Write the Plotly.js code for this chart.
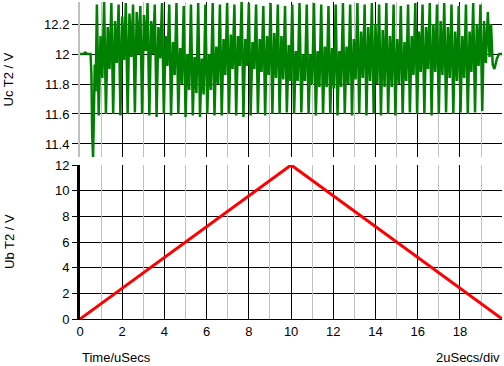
<!DOCTYPE html>
<html>
<head>
<meta charset="utf-8">
<script src="https://cdn.plot.ly/plotly-3.0.1.min.js"></script>
<style>
html,body{margin:0;padding:0;background:#fff;}
#chart{width:504px;height:366px;}
</style>
</head>
<body>
<div id="chart"></div>
<script>
// ---- Data ----
// Uc T2 (V): settling segment before the oscillation starts (time in uSecs)
const ucStartTime = [0, 0.15, 0.25, 0.35, 0.50, 0.54, 0.58, 0.62, 0.70, 0.74];
const ucStartValue = [12.0, 12.0, 12.01, 12.0, 12.0, 11.87, 11.45, 11.31, 11.93, 11.75];

// Uc T2 (V): oscillating part, samples every ucStep uSecs from ucOscStart
const ucOscStart = 0.80;
const ucStep = 0.0857;
const ucOscValue = [
  12.33, 11.59, 12.12, 11.84,
  12.35, 11.60, 12.18, 11.90,
  12.34, 11.60, 12.22, 11.94,
  12.33, 11.59, 12.25, 11.96,
  12.34, 11.60, 12.27, 11.98,
  12.33, 11.61, 12.28, 12.00,
  12.32, 11.60, 12.26, 12.02,
  12.34, 11.59, 12.22, 12.00,
  12.33, 11.58, 12.18, 11.97,
  12.34, 11.60, 12.12, 11.92,
  12.33, 11.59, 12.08, 11.86,
  12.34, 11.60, 12.04, 11.80,
  12.32, 11.58, 12.00, 11.76,
  12.33, 11.59, 11.98, 11.74,
  12.34, 11.58, 11.97, 11.73,
  12.33, 11.60, 12.00, 11.76,
  12.34, 11.59, 12.05, 11.80,
  12.33, 11.59, 12.10, 11.86,
  12.34, 11.60, 12.13, 11.90,
  12.33, 11.59, 12.12, 11.92,
  12.35, 11.58, 12.10, 11.92,
  12.34, 11.59, 12.08, 11.90,
  12.33, 11.60, 12.10, 11.88,
  12.32, 11.59, 12.12, 11.86,
  12.34, 11.60, 12.14, 11.84,
  12.33, 11.60, 12.12, 11.83,
  12.32, 11.61, 12.06, 11.82,
  12.33, 11.60, 12.02, 11.82,
  12.34, 11.61, 12.00, 11.82,
  12.33, 11.60, 12.00, 11.80,
  12.34, 11.59, 12.02, 11.78,
  12.33, 11.60, 12.05, 11.78,
  12.32, 11.60, 12.04, 11.77,
  12.33, 11.59, 12.02, 11.78,
  12.34, 11.60, 12.05, 11.80,
  12.33, 11.59, 12.10, 11.83,
  12.34, 11.60, 12.15, 11.84,
  12.33, 11.59, 12.18, 11.82,
  12.34, 11.60, 12.20, 11.80,
  12.33, 11.59, 12.16, 11.78,
  12.34, 11.60, 12.12, 11.78,
  12.33, 11.59, 12.10, 11.80,
  12.32, 11.60, 12.08, 11.82,
  12.33, 11.61, 12.12, 11.86,
  12.34, 11.60, 12.15, 11.88,
  12.33, 11.60, 12.18, 11.90,
  12.34, 11.59, 12.20, 11.88,
  12.33, 11.60, 12.22, 11.86,
  12.34, 11.61, 12.18, 11.84,
  12.33, 11.60, 12.15, 11.82,
  12.32, 11.61, 12.12, 11.84,
  12.33, 11.60, 12.15, 11.88,
  12.34, 11.61, 12.20, 11.92,
  12.33, 11.62, 12.22, 11.94
];

// Uc T2 (V): decay at the end
const ucEndTime = [19.32, 19.40, 19.47, 19.55, 19.63, 19.75, 19.85, 20.0];
const ucEndValue = [12.28, 11.98, 12.20, 11.93, 11.90, 11.97, 12.0, 12.0];

// Ub T2 (V): triangle ramp
const ubTime = [0, 10, 20];
const ubValue = [0, 12, 0];

// Tick / grid positions
const xMajorVals = [0, 2, 4, 6, 8, 10, 12, 14, 16, 18];
const xMinorVals = [1, 3, 5, 7, 9, 11, 13, 15, 17, 19];
const ucTickVals = [11.4, 11.6, 11.8, 12.0, 12.2];
const ucTickText = ['11.4', '11.6', '11.8', '12', '12.2'];
const ubTickVals = [0, 2, 4, 6, 8, 10, 12];

// ---- Build the Uc series ----
const ucTime = ucStartTime.slice();
const ucValue = ucStartValue.slice();
ucOscValue.forEach((v, i) => { ucTime.push(ucOscStart + i * ucStep); ucValue.push(v); });
ucEndTime.forEach((t, i) => { ucTime.push(t); ucValue.push(ucEndValue[i]); });

const FONT = {family: 'Arial, "Liberation Sans", sans-serif', size: 13, color: '#000'};
const GRAY = '#c0c0c0';
const X_RANGE = [0, 19.99];

const traces = [
  // empty carriers so the gray-grid overlay axes get their subplots
  {x: [], y: [], xaxis: 'x3', yaxis: 'y', type: 'scatter', mode: 'lines', hoverinfo: 'skip'},
  {x: [], y: [], xaxis: 'x4', yaxis: 'y2', type: 'scatter', mode: 'lines', hoverinfo: 'skip'},
  {x: ucTime, y: ucValue, xaxis: 'x2', yaxis: 'y2', type: 'scatter', mode: 'lines',
   line: {color: '#008000', width: 2.5, simplify: false}, hoverinfo: 'skip'},
  {x: ubTime, y: ubValue, xaxis: 'x', yaxis: 'y', type: 'scatter', mode: 'lines',
   line: {color: '#ff0000', width: 3}, hoverinfo: 'skip'}
];

const xMajor = {
  range: X_RANGE, tickmode: 'array', tickvals: xMajorVals,
  showgrid: true, gridcolor: '#000', gridwidth: 1,
  zeroline: false, ticks: '', tickfont: FONT, fixedrange: true
};
const xMinor = {
  range: X_RANGE, tickmode: 'array', tickvals: xMinorVals, showticklabels: false,
  showgrid: true, gridcolor: GRAY, gridwidth: 1, showline: false,
  zeroline: false, ticks: '', fixedrange: true
};

const layout = {
  width: 504, height: 366,
  margin: {l: 80, r: 2, t: 2, b: 47},
  paper_bgcolor: '#fff', plot_bgcolor: '#fff',
  showlegend: false,
  font: FONT,
  xaxis: Object.assign({}, xMajor, {anchor: 'y', showline: true, linecolor: '#000', linewidth: 1}),
  xaxis2: Object.assign({}, xMajor, {anchor: 'y2', showticklabels: false, showline: false}),
  xaxis3: Object.assign({}, xMinor, {anchor: 'y', overlaying: 'x'}),
  xaxis4: Object.assign({}, xMinor, {anchor: 'y2', overlaying: 'x2'}),
  yaxis: {
    domain: [0, 0.4858], range: [0, 12], tickmode: 'array', tickvals: ubTickVals,
    showgrid: true, gridcolor: '#000', gridwidth: 1, zeroline: false,
    ticks: 'outside', ticklen: 5, tickcolor: '#000', tickwidth: 1,
    showline: true, linecolor: '#000', linewidth: 3, tickfont: FONT, fixedrange: true
  },
  yaxis2: {
    domain: [0.511, 1], range: [11.313, 12.347], tickmode: 'array', tickvals: ucTickVals, ticktext: ucTickText,
    showgrid: true, gridcolor: '#000', gridwidth: 1, zeroline: false,
    ticks: 'outside', ticklen: 6, tickcolor: '#000', tickwidth: 1,
    showline: true, linecolor: GRAY, linewidth: 2, tickfont: FONT, fixedrange: true
  },
  annotations: [
    {text: 'Uc T2 / V', textangle: -90, xref: 'paper', x: 0, xshift: -71, xanchor: 'center',
     yref: 'y2 domain', y: 0.5, yanchor: 'middle', showarrow: false, font: FONT},
    {text: 'Ub T2 / V', textangle: -90, xref: 'paper', x: 0, xshift: -71, xanchor: 'center',
     yref: 'y domain', y: 0.5, yanchor: 'middle', showarrow: false, font: FONT},
    {text: 'Time/uSecs', xref: 'paper', x: 0, xanchor: 'left', yref: 'paper', y: 0, yshift: -38,
     yanchor: 'middle', showarrow: false, font: FONT},
    {text: '2uSecs/div', xref: 'paper', x: 1, xanchor: 'right', yref: 'paper', y: 0, yshift: -38,
     yanchor: 'middle', showarrow: false, font: FONT}
  ]
};

Plotly.newPlot('chart', traces, layout, {staticPlot: true, displayModeBar: false});
</script>
</body>
</html>
